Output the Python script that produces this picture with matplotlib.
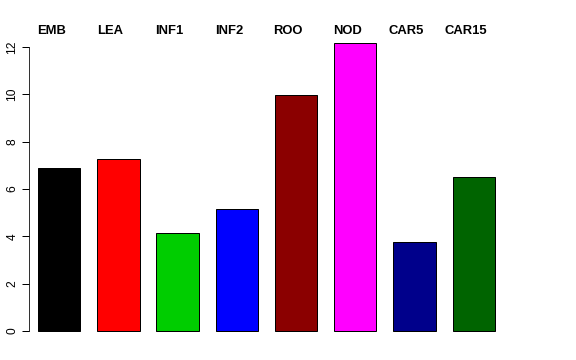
import matplotlib
matplotlib.use("Agg")
import matplotlib.pyplot as plt
import matplotlib.transforms as mtransforms
import numpy as np

labels = ["EMB", "LEA", "INF1", "INF2", "ROO", "NOD", "CAR5", "CAR15"]
values = [6.89, 7.27, 4.14, 5.15, 9.97, 12.17, 3.76, 6.51]
colors = ["#000000", "#FF0000", "#00CD00", "#0000FF", "#8B0000", "#FF00FF", "#00008B", "#006400"]
yticks = [0, 2, 4, 6, 8, 10, 12]

plt.rcParams["font.family"] = ["Liberation Sans", "DejaVu Sans"]

W, H = 576, 360
fig = plt.figure(figsize=(W / 72, H / 72), dpi=72, facecolor="w")
# plot region in pixels: left spine at 28.5, y=0 at 29 px from bottom, y=12 at 313
ax = fig.add_axes([28.5 / W, 29 / H, (560 - 28.5) / W, (313 - 29) / H])

# R barplot style: width 1, space 0.4
x = 0.4 + np.arange(len(values)) * 1.4 + 0.5
bars = ax.bar(x, values, width=1.0, color=colors, edgecolor="black", linewidth=1)
for b in bars:
    b.set_clip_on(False)

px_per_unit = 42.3
ax.set_xlim(0.175, 0.175 + (560 - 28.5) / px_per_unit)
ax.set_ylim(0, 12)

for s in ["top", "right", "bottom"]:
    ax.spines[s].set_visible(False)
ax.spines["left"].set_bounds(0, 12)
ax.set_xticks([])
ax.set_yticks(yticks)
ax.set_yticklabels([str(t) for t in yticks], rotation=90, va="center", fontsize=12)
ax.tick_params(axis="y", length=7, width=1, pad=3)

trans = mtransforms.blended_transform_factory(ax.transData, fig.transFigure)
for xi, lab in zip(x, labels):
    ax.text(xi - 0.19, (H - 34) / H, lab, transform=trans, ha="center", va="baseline",
            fontsize=13, fontweight="bold", clip_on=False)

fig.savefig("out.png", dpi=72)
